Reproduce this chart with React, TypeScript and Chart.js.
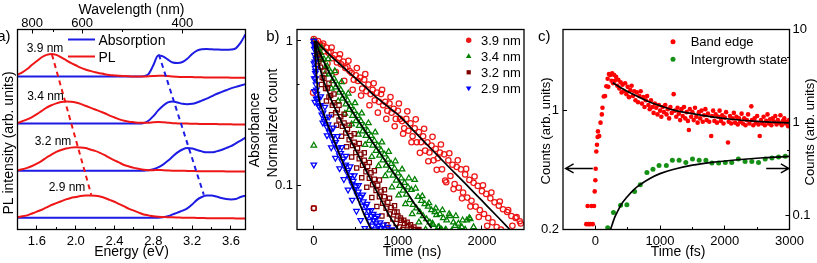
import { useEffect, useRef } from 'react';
import { Chart, registerables } from 'chart.js';

Chart.register(...registerables);

const FONT = "'Liberation Sans', Arial, Helvetica, sans-serif";
Chart.defaults.font.family = FONT;
Chart.defaults.color = '#000';

const RED = 'rgb(238,22,22)';
const BLUE = 'rgb(28,28,228)';
const GREEN_B = 'rgb(0,128,0)';
const MAROON = 'rgb(128,0,0)';
const BLUE_B = 'rgb(0,0,255)';
const GREEN_C = 'rgb(22,145,22)';

// ---------------- Panel a : PL / absorption spectra ----------------
const ENERGY_EV = [
  1.40, 1.45, 1.50, 1.55, 1.60, 1.65, 1.70, 1.75,
  1.80, 1.85, 1.90, 1.95, 2.00, 2.05, 2.10, 2.15,
  2.20, 2.25, 2.30, 2.35, 2.40, 2.45, 2.50, 2.55,
  2.60, 2.65, 2.70, 2.75, 2.80, 2.85, 2.90, 2.95,
  3.00, 3.05, 3.10, 3.15, 3.20, 3.25, 3.30, 3.35,
  3.40, 3.45, 3.50, 3.55, 3.60, 3.65, 3.70, 3.75,
];
const SAMPLE_SIZES = ['3.9 nm', '3.4 nm', '3.2 nm', '2.9 nm'];
const SAMPLE_OFFSETS = [3.25, 2.25, 1.25, 0.25];

const PL_39 = [
  0.04, 0.09, 0.16, 0.25, 0.33, 0.41, 0.46, 0.48,
  0.46, 0.41, 0.35, 0.29, 0.24, 0.19, 0.15, 0.12,
  0.09, 0.07, 0.05, 0.035, 0.025, 0.015, 0.01, 0.005,
  0, 0, 0, 0.005, 0.01, 0.015, 0.015, 0.01,
  0, -0.005, -0.01, -0.01, -0.01, -0.015, -0.015, -0.02,
  -0.02, -0.02, -0.02, -0.02, -0.025, -0.025, -0.025, -0.025,
];
const ABS_39 = [
  0, 0, 0, 0, 0, 0, 0, 0,
  0, 0, 0, 0, 0, 0, 0, 0,
  0, 0, 0, 0, 0, 0, 0, 0,
  0, 0, 0.005, 0.05, 0.24, 0.45, 0.43, 0.36,
  0.30, 0.29, 0.31, 0.38, 0.48, 0.55, 0.58, 0.585,
  0.58, 0.575, 0.57, 0.57, 0.575, 0.60, 0.72, 0.90,
];
const PL_34 = [
  0.01, 0.05, 0.09, 0.14, 0.20, 0.27, 0.34, 0.39,
  0.43, 0.46, 0.47, 0.465, 0.45, 0.42, 0.38, 0.34,
  0.30, 0.26, 0.22, 0.17, 0.13, 0.09, 0.06, 0.04,
  0.03, 0.02, 0.02, 0.02, 0.03, 0.035, 0.03, 0.02,
  0.01, 0.005, 0, 0, -0.005, -0.005, -0.01, -0.01,
  -0.01, -0.01, -0.015, -0.015, -0.015, -0.02, -0.02, -0.02,
];
const ABS_34 = [
  0, 0, 0, 0, 0, 0, 0, 0,
  0, 0, 0, 0, 0, 0, 0, 0,
  0, 0, 0, 0, 0, 0, 0, 0,
  0, 0, 0.01, 0.06, 0.16, 0.28, 0.38, 0.45,
  0.47, 0.45, 0.42, 0.41, 0.42, 0.45, 0.49, 0.53,
  0.58, 0.63, 0.67, 0.71, 0.75, 0.78, 0.81, 0.84,
];
const PL_32 = [
  0.01, 0.03, 0.06, 0.10, 0.15, 0.21, 0.28, 0.34,
  0.40, 0.44, 0.47, 0.49, 0.50, 0.495, 0.48, 0.45,
  0.42, 0.38, 0.33, 0.27, 0.22, 0.17, 0.12, 0.09,
  0.06, 0.04, 0.02, 0.01, 0.01, 0.015, 0.01, 0.005,
  0, 0, 0, -0.005, -0.005, -0.01, -0.01, -0.01,
  -0.01, -0.01, -0.01, -0.015, -0.015, -0.015, -0.015, -0.015,
];
const ABS_32 = [
  0, 0, 0, 0, 0, 0, 0, 0,
  0, 0, 0, 0, 0, 0, 0, 0,
  0, 0, 0, 0, 0, 0, 0, 0,
  0, 0, 0, 0.01, 0.03, 0.07, 0.13, 0.21,
  0.30, 0.39, 0.45, 0.48, 0.47, 0.44, 0.41, 0.39,
  0.39, 0.41, 0.44, 0.48, 0.52, 0.58, 0.64, 0.70,
];
const PL_29 = [
  0.01, 0.03, 0.05, 0.09, 0.13, 0.17, 0.22, 0.27,
  0.31, 0.35, 0.39, 0.42, 0.44, 0.46, 0.47, 0.47,
  0.465, 0.45, 0.42, 0.38, 0.34, 0.29, 0.24, 0.19,
  0.15, 0.11, 0.07, 0.05, 0.03, 0.02, 0.015, 0.01,
  0.01, 0.005, 0, 0, 0, -0.005, -0.005, -0.01,
  -0.01, -0.01, -0.01, -0.01, -0.01, -0.015, -0.015, -0.015,
];
const ABS_29 = [
  0, 0, 0, 0, 0, 0, 0, 0,
  0, 0, 0, 0, 0, 0, 0, 0,
  0, 0, 0, 0, 0, 0, 0, 0,
  0, 0, 0, 0, 0, 0, 0.01, 0.03,
  0.07, 0.11, 0.15, 0.20, 0.28, 0.38, 0.44, 0.47,
  0.47, 0.45, 0.42, 0.40, 0.39, 0.40, 0.44, 0.47,
];
const PL_SERIES = [PL_39, PL_34, PL_32, PL_29];
const ABS_SERIES = [ABS_39, ABS_34, ABS_32, ABS_29];
const PL_SHIFT_LINE = [[1.755, 3.72], [2.16, 0.74]];
const ABS_SHIFT_LINE = [[2.857, 3.72], [3.32, 0.74]];
const ENERGY_TICKS = [1.6, 1.8, 2.0, 2.2, 2.4, 2.6, 2.8, 3.0, 3.2, 3.4, 3.6];
const ENERGY_TICK_LABELS = ['1.6', '', '2.0', '', '2.4', '', '2.8', '', '3.2', '', '3.6'];
const WAVELENGTH_TICKS = [800, 700, 600, 500, 400];
const WAVELENGTH_TICK_LABELS = ['800', '', '600', '', '400'];

// ---------------- Panel b : PL decays ----------------
const DECAY_39 = [
  [-8, 0.44], [0, 0.07],
  [0, 1.03], [25, 0.98], [50, 1.0], [75, 0.94], [100, 0.93], [125, 0.85], [150, 0.9], [175, 0.83],
  [200, 0.84], [225, 0.76], [250, 0.8], [275, 0.71], [300, 0.76], [325, 0.69], [350, 0.72], [375, 0.65],
  [400, 0.66], [425, 0.62], [450, 0.6], [475, 0.54], [500, 0.58], [525, 0.53], [550, 0.56], [575, 0.47],
  [600, 0.54], [625, 0.45], [650, 0.5], [675, 0.43], [700, 0.46], [725, 0.39], [750, 0.44], [775, 0.38],
  [800, 0.43], [825, 0.36], [850, 0.38], [875, 0.33], [900, 0.37], [925, 0.32], [950, 0.34], [975, 0.29],
  [1000, 0.33], [1025, 0.29], [1050, 0.28], [1075, 0.25], [1100, 0.29], [1125, 0.24], [1150, 0.27], [1175, 0.22],
  [1200, 0.25], [1225, 0.2], [1250, 0.235], [1275, 0.2], [1300, 0.22], [1325, 0.175], [1350, 0.2], [1375, 0.17],
  [1400, 0.19], [1425, 0.15], [1450, 0.18], [1475, 0.155], [1500, 0.17], [1525, 0.13], [1550, 0.165], [1575, 0.106],
  [1600, 0.15], [1625, 0.117], [1650, 0.14], [1675, 0.103], [1700, 0.135], [1725, 0.097], [1750, 0.13], [1775, 0.09],
  [1800, 0.12], [1825, 0.083], [1850, 0.11], [1875, 0.079], [1900, 0.105], [1925, 0.072], [1950, 0.1], [1975, 0.068],
  [2000, 0.092], [2025, 0.064], [2050, 0.088], [2075, 0.06], [2100, 0.082], [2125, 0.056], [2150, 0.077], [2175, 0.052],
  [2200, 0.073], [2225, 0.05], [2250, 0.069], [2275, 0.048], [2300, 0.066], [2325, 0.045], [2350, 0.062], [2375, 0.043],
  [2400, 0.06], [2425, 0.041], [2450, 0.057], [2475, 0.04],
];
const DECAY_39_SPREAD = [
  [62, 0.81], [112, 0.96], [162, 0.7], [212, 0.9], [262, 0.61], [312, 0.81], [362, 0.53], [412, 0.73],
  [462, 0.46], [512, 0.65], [562, 0.42], [612, 0.59], [662, 0.36], [712, 0.51], [762, 0.32], [812, 0.46],
  [862, 0.29], [912, 0.41], [962, 0.258], [1012, 0.37], [1062, 0.229], [1112, 0.327], [1162, 0.2], [1212, 0.288],
  [1262, 0.169], [1312, 0.248], [1362, 0.148], [1412, 0.218], [1462, 0.129], [1512, 0.193], [1562, 0.109], [1612, 0.168],
  [1662, 0.095], [1712, 0.15], [1762, 0.082], [1812, 0.131], [1862, 0.072], [1912, 0.116], [1962, 0.061], [2012, 0.101],
  [2062, 0.053], [2112, 0.09], [2162, 0.045], [2212, 0.078], [2262, 0.041], [2312, 0.068], [2362, 0.053], [2412, 0.061],
  [2462, 0.055],
];
const DECAY_34 = [
  [0, 0.19],
  [0, 1.0], [20, 0.97], [40, 0.9], [60, 0.84], [80, 0.83], [100, 0.74], [120, 0.75], [140, 0.66],
  [160, 0.67], [180, 0.59], [200, 0.61], [220, 0.53], [240, 0.55], [260, 0.48], [280, 0.5], [300, 0.44],
  [320, 0.46], [340, 0.4], [360, 0.42], [380, 0.365], [400, 0.39], [420, 0.335], [440, 0.355], [460, 0.305],
  [480, 0.33], [500, 0.28], [520, 0.305], [540, 0.26], [560, 0.28], [580, 0.238], [600, 0.258], [620, 0.222],
  [640, 0.24], [660, 0.205], [680, 0.222], [700, 0.19], [720, 0.205], [740, 0.175], [760, 0.19], [780, 0.162],
  [800, 0.176], [820, 0.15], [840, 0.165], [860, 0.138], [880, 0.152], [900, 0.128], [920, 0.142], [940, 0.118],
  [960, 0.132], [980, 0.109], [1000, 0.122], [1020, 0.1], [1040, 0.113], [1060, 0.093], [1080, 0.105], [1100, 0.087],
  [1120, 0.098], [1140, 0.08], [1160, 0.094], [1180, 0.074], [1200, 0.11], [1220, 0.07], [1240, 0.084], [1260, 0.066],
  [1280, 0.079], [1300, 0.062], [1320, 0.075], [1340, 0.059], [1360, 0.072], [1380, 0.056], [1400, 0.068], [1420, 0.054],
  [1440, 0.066], [1460, 0.063], [1480, 0.052], [1500, 0.064], [1520, 0.05], [1540, 0.06], [1560, 0.049], [1580, 0.058],
  [1600, 0.047], [1620, 0.062], [1640, 0.049], [1660, 0.056], [1680, 0.053], [1700, 0.046], [1720, 0.055], [1740, 0.048],
  [1760, 0.052], [1780, 0.045], [1800, 0.05], [1820, 0.058], [1840, 0.047], [1860, 0.059], [1880, 0.046],
];
const DECAY_34_SPREAD = [
  [50, 0.76], [90, 0.9], [130, 0.59], [170, 0.75], [210, 0.47], [250, 0.62], [290, 0.385], [330, 0.52],
  [370, 0.316], [410, 0.434], [450, 0.266], [490, 0.373], [530, 0.226], [570, 0.317], [610, 0.192], [650, 0.271],
  [690, 0.159], [730, 0.234], [770, 0.137], [810, 0.2], [850, 0.117], [890, 0.172], [930, 0.098], [970, 0.148],
  [1010, 0.086], [1050, 0.13], [1090, 0.075], [1130, 0.113], [1170, 0.064], [1210, 0.096], [1250, 0.056], [1290, 0.085],
  [1330, 0.05], [1370, 0.076], [1410, 0.055], [1450, 0.07], [1490, 0.052], [1530, 0.068], [1570, 0.05], [1610, 0.064],
  [1650, 0.047], [1690, 0.062], [1730, 0.05], [1770, 0.058], [1850, 0.06], [1900, 0.052],
];
const DECAY_32 = [
  [0, 0.07],
  [0, 1.0], [20, 0.93], [40, 0.82], [60, 0.72], [80, 0.66], [100, 0.56], [120, 0.55], [140, 0.47],
  [160, 0.47], [180, 0.41], [200, 0.42], [220, 0.36], [240, 0.375], [260, 0.32], [280, 0.335], [300, 0.285],
  [320, 0.3], [340, 0.258], [360, 0.272], [380, 0.232], [400, 0.245], [420, 0.208], [440, 0.222], [460, 0.19],
  [480, 0.2], [500, 0.17], [520, 0.182], [540, 0.154], [560, 0.165], [580, 0.139], [600, 0.15], [620, 0.125],
  [640, 0.136], [660, 0.113], [680, 0.123], [700, 0.102], [720, 0.111], [740, 0.093], [760, 0.101], [780, 0.084],
  [800, 0.092], [820, 0.076], [840, 0.084], [860, 0.07], [880, 0.077], [900, 0.064], [920, 0.071], [940, 0.059],
  [960, 0.066], [980, 0.055], [1000, 0.062], [1020, 0.052], [1040, 0.058], [1060, 0.05], [1080, 0.055], [1100, 0.048],
  [1120, 0.053], [1140, 0.047], [1160, 0.051], [1180, 0.046], [1200, 0.05], [1220, 0.045], [1240, 0.049], [1260, 0.044],
];
const DECAY_32_SPREAD = [
  [30, 0.76], [60, 0.8], [90, 0.5], [120, 0.62], [150, 0.385], [180, 0.51], [210, 0.31], [240, 0.43],
  [270, 0.262], [300, 0.36], [330, 0.22], [360, 0.312], [390, 0.186], [420, 0.262], [450, 0.158], [480, 0.229],
  [510, 0.133], [540, 0.196], [570, 0.114], [600, 0.169], [630, 0.098], [660, 0.145], [690, 0.083], [720, 0.127],
  [750, 0.072], [780, 0.11], [810, 0.062], [840, 0.094], [870, 0.054], [900, 0.082], [930, 0.049], [960, 0.073],
  [990, 0.066], [1030, 0.06], [1070, 0.058], [1110, 0.056], [1150, 0.054], [1190, 0.052], [1250, 0.05],
];
const DECAY_29 = [
  [0, 0.14],
  [0, 1.0], [3, 0.95], [6, 0.88], [9, 0.8], [12, 0.72], [15, 0.65], [18, 0.6], [22, 0.55], [26, 0.5], [30, 0.46],
  [35, 0.43], [40, 0.4], [50, 0.4], [65, 0.35], [80, 0.36], [95, 0.31], [110, 0.32], [125, 0.28], [140, 0.29],
  [155, 0.255], [170, 0.265], [185, 0.235], [200, 0.24], [215, 0.212], [230, 0.22], [245, 0.195], [260, 0.2],
  [275, 0.178], [290, 0.183], [305, 0.162], [320, 0.168], [335, 0.148], [350, 0.154], [365, 0.136], [380, 0.14],
  [395, 0.124], [410, 0.128], [425, 0.113], [440, 0.118], [455, 0.103], [470, 0.108], [485, 0.095], [500, 0.099],
  [515, 0.087], [530, 0.091], [545, 0.08], [560, 0.084], [575, 0.073], [590, 0.078], [605, 0.067], [620, 0.072],
  [635, 0.062], [650, 0.067], [665, 0.057], [680, 0.062], [695, 0.053], [710, 0.058], [725, 0.05], [740, 0.055],
  [755, 0.048], [770, 0.053], [785, 0.046], [800, 0.051], [820, 0.045], [840, 0.05], [860, 0.044],
];
const DECAY_29_SPREAD = [
  [2, 0.7], [5, 0.55], [8, 0.45], [12, 0.38], [16, 0.9], [20, 0.62], [25, 0.75], [28, 0.4],
  [57, 0.357], [82, 0.414], [107, 0.273], [132, 0.351], [157, 0.223], [182, 0.3], [207, 0.184], [232, 0.252],
  [257, 0.156], [282, 0.22], [307, 0.132], [332, 0.185], [357, 0.111], [382, 0.161], [407, 0.094], [432, 0.136],
  [457, 0.08], [482, 0.118], [507, 0.067], [532, 0.101], [557, 0.058], [582, 0.087], [607, 0.051], [632, 0.075],
  [657, 0.049], [682, 0.068], [707, 0.064], [732, 0.06], [760, 0.062], [790, 0.056], [830, 0.054], [880, 0.052],
  [930, 0.05],
];
const FIT_39 = [[30, 1.0], [100, 0.9], [200, 0.79], [300, 0.7], [400, 0.62], [500, 0.55], [600, 0.49], [700, 0.43], [800, 0.385], [900, 0.345], [1000, 0.31], [1200, 0.236], [1400, 0.179], [1600, 0.136], [1800, 0.104], [2000, 0.079], [2200, 0.06], [2330, 0.05]];
const FIT_34 = [[20, 1.0], [60, 0.86], [100, 0.76], [150, 0.66], [200, 0.58], [300, 0.46], [400, 0.37], [500, 0.3], [600, 0.245], [700, 0.2], [800, 0.165], [900, 0.135], [1000, 0.112], [1100, 0.092], [1200, 0.075], [1300, 0.062], [1400, 0.051]];
const FIT_32 = [[15, 1.0], [40, 0.8], [70, 0.66], [100, 0.57], [150, 0.47], [200, 0.4], [300, 0.3], [400, 0.228], [500, 0.175], [600, 0.135], [700, 0.104], [800, 0.08], [900, 0.062], [1000, 0.05]];
const FIT_29 = [[8, 1.0], [20, 0.74], [35, 0.55], [50, 0.44], [70, 0.38], [100, 0.335], [150, 0.28], [200, 0.235], [300, 0.168], [400, 0.122], [500, 0.088], [600, 0.063], [680, 0.05]];
const TIME_NS_TICKS = [0, 500, 1000, 1500, 2000];
const TIME_NS_LABELS = ['0', '', '1000', '', '2000'];
const COUNT_TICKS = [0.1, 0.5, 1];
const COUNT_LABELS = ['0.1', '', '1'];

// ---------------- Panel c : transient dynamics ----------------
const BAND_EDGE = [
  [-140, 0.215], [-120, 0.275], [-105, 0.215], [-80, 0.215], [-60, 0.275], [-40, 0.215], [-20, 0.275], [-10, 0.335],
  [0, 0.39], [5, 0.455], [15, 0.575], [25, 0.63], [35, 0.7], [40, 0.755], [60, 0.71], [80, 0.85], [100, 0.95],
  [110, 1.04], [130, 1.21], [150, 1.22], [170, 1.39], [190, 1.54], [200, 1.38], [210, 1.64], [230, 1.62], [250, 1.5],
  [260, 1.66], [275, 1.45], [290, 1.62], [300, 1.5], [320, 1.58], [340, 1.4], [355, 1.52], [370, 1.35], [390, 1.47],
  [405, 1.28], [420, 1.42], [440, 1.3], [460, 1.45], [480, 1.25], [500, 1.38], [520, 1.2], [540, 1.32], [560, 1.4],
  [580, 1.22], [600, 1.3], [620, 1.15], [640, 1.28], [660, 1.12], [680, 1.22], [700, 1.3], [720, 1.1], [740, 1.2],
  [760, 1.05], [780, 1.15], [800, 1.22], [820, 1.08], [840, 1.02], [860, 1.15], [880, 1.05], [900, 0.97], [920, 1.1],
  [940, 1.04], [960, 0.95], [980, 1.08], [1000, 1.0], [1020, 0.92], [1040, 1.05], [1060, 0.98], [1080, 1.08],
  [1100, 0.95], [1120, 1.02], [1140, 0.9], [1160, 1.05], [1180, 0.97], [1210, 1.25], [1230, 1.0], [1250, 0.92],
  [1270, 1.04], [1290, 0.96], [1310, 0.88], [1330, 1.02], [1350, 0.93], [1370, 1.05], [1390, 0.9], [1410, 0.98],
  [1430, 0.87], [1445, 0.77], [1460, 1.02], [1480, 0.92], [1500, 0.98], [1520, 0.88], [1540, 1.04], [1560, 0.92],
  [1580, 0.85], [1600, 0.98], [1620, 0.9], [1640, 1.0], [1660, 0.86], [1680, 0.94], [1700, 1.02], [1720, 0.88],
  [1740, 0.96], [1760, 0.86], [1790, 0.71], [1800, 0.93], [1820, 1.0], [1840, 0.87], [1860, 0.95], [1880, 0.85],
  [1900, 0.92], [1920, 1.0], [1940, 0.87], [1960, 0.94], [1980, 0.84], [2000, 0.91], [2020, 0.98], [2050, 0.65],
  [2060, 0.86], [2080, 0.93], [2100, 0.84], [2120, 0.9], [2140, 0.97], [2160, 0.85], [2180, 0.92], [2200, 0.83],
  [2220, 0.9], [2240, 0.86], [2260, 0.96], [2280, 0.84], [2300, 0.9], [2320, 0.82], [2340, 0.88], [2360, 0.95],
  [2380, 0.84], [2410, 1.06], [2420, 0.88], [2440, 0.82], [2460, 0.9], [2480, 0.85], [2500, 0.93], [2520, 0.83],
  [2540, 0.71], [2560, 0.88], [2580, 0.84], [2600, 0.92], [2620, 0.82], [2640, 0.87], [2660, 0.95], [2680, 0.84],
  [2700, 0.89], [2720, 0.82], [2740, 0.9], [2760, 0.86], [2780, 0.93], [2800, 0.83], [2820, 0.88], [2840, 0.85],
  [2860, 0.94], [2880, 0.82], [2900, 0.87], [2920, 0.9], [2940, 0.84], [2960, 0.86], [2980, 0.81], [2995, 0.88],
];
const BAND_EDGE_FIT = [[270, 1.46], [400, 1.36], [600, 1.24], [800, 1.14], [1000, 1.07], [1200, 1.01], [1500, 0.96], [1800, 0.92], [2100, 0.89], [2400, 0.87], [2700, 0.855], [3000, 0.847]];
const INTERGROWTH = [
  [191, 0.073], [280, 0.107], [390, 0.128], [487, 0.129], [606, 0.18], [694, 0.213], [797, 0.288], [890, 0.313],
  [984, 0.343], [1097, 0.343], [1190, 0.389], [1294, 0.389], [1398, 0.37], [1501, 0.402], [1604, 0.389],
  [1708, 0.389], [1801, 0.364], [1905, 0.364], [2008, 0.37], [2107, 0.37], [2210, 0.402], [2314, 0.379],
  [2418, 0.379], [2521, 0.37], [2624, 0.402], [2728, 0.412], [2831, 0.423], [2935, 0.43],
];
const INTERGROWTH_FIT = [[235, 0.07], [300, 0.095], [350, 0.112], [400, 0.13], [500, 0.16], [600, 0.19], [700, 0.215], [850, 0.25], [1000, 0.28], [1200, 0.31], [1500, 0.345], [1800, 0.37], [2200, 0.395], [2600, 0.415], [3000, 0.43]];
const TIME_FS_TICKS = [0, 500, 1000, 1500, 2000, 2500, 3000];
const TIME_FS_LABELS = ['0', '', '1000', '', '2000', '', '3000'];
const LEFT_COUNT_TICKS = [0.2, 1];
const LEFT_COUNT_LABELS = ['0.2', '1'];
const RIGHT_COUNT_TICKS = [0.1, 0.5, 1, 5, 10];
const RIGHT_COUNT_LABELS = ['0.1', '', '1', '', '10'];
const AXIS_ARROWS = [
  { from: -40, to: -460, v: 0.457 },
  { from: 2640, to: 2990, v: 0.457 },
];

// ---------------- helpers ----------------
const pts = (arr: number[][]) => arr.map((p) => ({ x: p[0], y: p[1] }));

function fixedTicks(values: number[], labels: string[], size: number, padding: number) {
  return {
    afterBuildTicks: (s: any) => {
      s.ticks = values.map((v) => ({ value: v }));
    },
    ticks: {
      autoSkip: false,
      maxRotation: 0,
      minRotation: 0,
      padding,
      color: '#000',
      font: { size, family: FONT },
      callback: (_v: any, i: number) => labels[i],
    },
    grid: { display: false, drawTicks: false },
    border: { display: false },
  };
}

const decorPlugin = {
  id: 'decor',
  afterDraw(chart: any, _args: any, o: any) {
    const ctx = chart.ctx as CanvasRenderingContext2D;
    const ca = chart.chartArea;
    ctx.save();
    ctx.strokeStyle = '#000';
    ctx.fillStyle = '#000';
    (o.arrows || []).forEach((ar: any) => {
      const xs = chart.scales.x;
      const ys = chart.scales.y;
      const x1 = xs.getPixelForValue(ar.from);
      const x2 = xs.getPixelForValue(ar.to);
      const y = ys.getPixelForValue(ar.v);
      const dir = Math.sign(x2 - x1);
      ctx.lineWidth = 1.4;
      ctx.beginPath();
      ctx.moveTo(x1, y);
      ctx.lineTo(x2, y);
      ctx.moveTo(x2 - dir * 8, y - 4.5);
      ctx.lineTo(x2, y);
      ctx.lineTo(x2 - dir * 8, y + 4.5);
      ctx.stroke();
    });
    ctx.lineWidth = 1;
    (o.ticks || []).forEach((spec: any) => {
      const sc = chart.scales[spec.axis];
      sc.ticks.forEach((tk: any) => {
        const len = tk.label ? 4 : 2.5;
        const p = Math.round(sc.getPixelForValue(tk.value) - 0.5) + 0.5;
        ctx.beginPath();
        if (spec.side === 'bottom') { ctx.moveTo(p, ca.bottom); ctx.lineTo(p, ca.bottom - len); }
        if (spec.side === 'top') { ctx.moveTo(p, ca.top); ctx.lineTo(p, ca.top + len); }
        if (spec.side === 'left') { ctx.moveTo(ca.left, p); ctx.lineTo(ca.left + len, p); }
        if (spec.side === 'right') { ctx.moveTo(ca.right, p); ctx.lineTo(ca.right - len, p); }
        ctx.stroke();
      });
    });
    ctx.lineWidth = 1.3;
    ctx.strokeRect(ca.left, ca.top, ca.right - ca.left, ca.bottom - ca.top);
    (o.lines || []).forEach((l: any) => {
      ctx.strokeStyle = l.color;
      ctx.lineWidth = 2;
      ctx.beginPath();
      ctx.moveTo(l.x1, l.y);
      ctx.lineTo(l.x2, l.y);
      ctx.stroke();
    });
    (o.markers || []).forEach((m: any) => {
      const { x, y, r } = m;
      ctx.strokeStyle = m.color;
      ctx.fillStyle = m.color;
      ctx.lineWidth = 1.25;
      ctx.beginPath();
      if (m.shape === 'circle') ctx.arc(x, y, r, 0, Math.PI * 2);
      if (m.shape === 'square') ctx.rect(x - r * 0.707, y - r * 0.707, r * 1.414, r * 1.414);
      if (m.shape === 'up') {
        ctx.moveTo(x, y - r); ctx.lineTo(x + r * 0.866, y + r / 2); ctx.lineTo(x - r * 0.866, y + r / 2); ctx.closePath();
      }
      if (m.shape === 'down') {
        ctx.moveTo(x, y + r); ctx.lineTo(x + r * 0.866, y - r / 2); ctx.lineTo(x - r * 0.866, y - r / 2); ctx.closePath();
      }
      if (m.fill) ctx.fill(); else ctx.stroke();
    });
    ctx.fillStyle = '#000';
    ctx.textBaseline = 'alphabetic';
    (o.texts || []).forEach((t: any) => {
      ctx.font = `${t.size}px ${FONT}`;
      ctx.textAlign = t.align || 'left';
      if (t.rot) {
        ctx.save();
        ctx.translate(t.x, t.y);
        ctx.rotate(t.rot);
        ctx.fillText(t.text, 0, 0);
        ctx.restore();
      } else {
        ctx.fillText(t.text, t.x, t.y);
      }
    });
    ctx.restore();
  },
};

const baseOptions = {
  responsive: false,
  animation: false as const,
  devicePixelRatio: 1,
  events: [] as any[],
};

function configA(): any {
  const datasets: any[] = [];
  SAMPLE_SIZES.forEach((_s, k) => {
    datasets.push({
      data: ENERGY_EV.map((e, i) => ({ x: e, y: SAMPLE_OFFSETS[k] + ABS_SERIES[k][i] })),
      borderColor: BLUE, borderWidth: 2, pointRadius: 0, cubicInterpolationMode: 'monotone', order: 5,
    });
    datasets.push({
      data: ENERGY_EV.map((e, i) => ({ x: e, y: SAMPLE_OFFSETS[k] + PL_SERIES[k][i] })),
      borderColor: RED, borderWidth: 2, pointRadius: 0, cubicInterpolationMode: 'monotone', order: 4,
    });
  });
  datasets.push({ data: pts(PL_SHIFT_LINE), borderColor: RED, borderWidth: 2, borderDash: [5, 4], pointRadius: 0, order: 1 });
  datasets.push({ data: pts(ABS_SHIFT_LINE), borderColor: BLUE, borderWidth: 2, borderDash: [5, 4], pointRadius: 0, order: 1 });
  return {
    type: 'line',
    data: { datasets },
    plugins: [decorPlugin],
    options: {
      ...baseOptions,
      layout: { padding: { left: 17.5, right: 571.5, top: 0, bottom: 0 } },
      scales: {
        x: {
          type: 'linear', position: 'bottom', min: 1.4, max: 3.75,
          ...fixedTicks(ENERGY_TICKS, ENERGY_TICK_LABELS, 13, 4),
          afterFit: (s: any) => { s.height = 33.5; },
        },
        xTop: {
          type: 'linear', position: 'top', min: 1.4, max: 3.75,
          ...fixedTicks(WAVELENGTH_TICKS.map((w) => 1239.84 / w), WAVELENGTH_TICK_LABELS, 13, -2),
          afterFit: (s: any) => { s.height = 29.5; },
        },
        y: { type: 'linear', min: 0, max: 4.25, display: false },
      },
      plugins: {
        legend: { display: false },
        tooltip: { enabled: false },
        decor: {
          ticks: [{ axis: 'x', side: 'bottom' }, { axis: 'xTop', side: 'top' }],
          lines: [
            { x1: 68, x2: 95, y: 39.5, color: BLUE },
            { x1: 68, x2: 95, y: 56.5, color: RED },
          ],
          texts: [
            { text: 'a)', x: 10.5, y: 41, size: 15, align: 'right' },
            { text: 'Wavelength (nm)', x: 131.5, y: 14, size: 14, align: 'center' },
            { text: 'Energy (eV)', x: 131.5, y: 256, size: 14, align: 'center' },
            { text: 'PL intensity (arb. units)', x: 13, y: 143, size: 14, align: 'center', rot: -Math.PI / 2 },
            { text: 'Absorbance', x: 259, y: 130, size: 14, align: 'center', rot: -Math.PI / 2 },
            { text: 'Absorption', x: 98.5, y: 44.5, size: 14 },
            { text: 'PL', x: 98.5, y: 61.5, size: 14 },
            { text: SAMPLE_SIZES[0], x: 45, y: 52, size: 12, align: 'center' },
            { text: SAMPLE_SIZES[1], x: 45.5, y: 99.5, size: 12, align: 'center' },
            { text: SAMPLE_SIZES[2], x: 53, y: 145, size: 12, align: 'center' },
            { text: SAMPLE_SIZES[3], x: 67, y: 191, size: 12, align: 'center' },
          ],
        },
      },
    },
  };
}

function scatterSet(data: number[][], color: string, style: string, radius: number, rotation: number, order: number) {
  return {
    data: pts(data), showLine: false, pointStyle: style, pointRadius: radius, pointRotation: rotation,
    pointBorderColor: color, pointBackgroundColor: 'rgba(0,0,0,0)', pointBorderWidth: 1.25, order,
  };
}
function fitSet(data: number[][], order: number, yAxisID = 'y') {
  return {
    data: pts(data), borderColor: '#000', borderWidth: 1.7, pointRadius: 0,
    cubicInterpolationMode: 'monotone', order, yAxisID,
  };
}

function configB(): any {
  const datasets = [
    scatterSet(DECAY_39.concat(DECAY_39_SPREAD), RED, 'circle', 2.7, 0, 9),
    scatterSet(DECAY_34.concat(DECAY_34_SPREAD), GREEN_B, 'triangle', 3.2, 0, 8),
    scatterSet(DECAY_32.concat(DECAY_32_SPREAD), MAROON, 'rect', 3.0, 0, 7),
    scatterSet(DECAY_29.concat(DECAY_29_SPREAD), BLUE_B, 'triangle', 3.2, 180, 6),
    fitSet(FIT_39, 1), fitSet(FIT_34, 1), fitSet(FIT_32, 1), fitSet(FIT_29, 1),
  ];
  return {
    type: 'line',
    data: { datasets },
    plugins: [decorPlugin],
    options: {
      ...baseOptions,
      layout: { padding: { left: 270, right: 293, top: 29.5, bottom: 0 } },
      scales: {
        x: {
          type: 'linear', position: 'bottom', min: -200, max: 2500,
          ...fixedTicks(TIME_NS_TICKS, TIME_NS_LABELS, 13, 4),
          afterFit: (s: any) => { s.height = 33.5; },
        },
        y: {
          type: 'logarithmic', position: 'left', min: 0.05, max: 1.2,
          ...fixedTicks(COUNT_TICKS, COUNT_LABELS, 13, 4),
          afterFit: (s: any) => { s.width = 27; },
        },
      },
      plugins: {
        legend: { display: false },
        tooltip: { enabled: false },
        decor: {
          ticks: [{ axis: 'x', side: 'bottom' }, { axis: 'y', side: 'left' }],
          markers: [
            { shape: 'circle', x: 468.7, y: 40.3, r: 2.7, color: RED },
            { shape: 'up', x: 468.7, y: 56.5, r: 3.2, color: GREEN_B },
            { shape: 'square', x: 468.7, y: 72.3, r: 3.0, color: MAROON },
            { shape: 'down', x: 468.7, y: 88, r: 3.2, color: BLUE_B },
          ],
          texts: [
            { text: 'b)', x: 279.5, y: 41, size: 15, align: 'right' },
            { text: 'Normalized count', x: 277, y: 123, size: 14, align: 'center', rot: -Math.PI / 2 },
            { text: 'Time (ns)', x: 412, y: 256, size: 14, align: 'center' },
            { text: SAMPLE_SIZES[0], x: 481, y: 45, size: 13 },
            { text: SAMPLE_SIZES[1], x: 481, y: 61, size: 13 },
            { text: SAMPLE_SIZES[2], x: 481, y: 77, size: 13 },
            { text: SAMPLE_SIZES[3], x: 481, y: 92.7, size: 13 },
          ],
        },
      },
    },
  };
}

function configC(): any {
  const datasets = [
    {
      data: pts(BAND_EDGE), showLine: false, pointRadius: 2.3, pointBorderWidth: 0,
      pointBackgroundColor: 'rgb(255,0,0)', pointBorderColor: 'rgb(255,0,0)', order: 5, yAxisID: 'y',
    },
    {
      data: pts(INTERGROWTH), showLine: false, pointRadius: 2.5, pointBorderWidth: 0,
      pointBackgroundColor: GREEN_C, pointBorderColor: GREEN_C, order: 4, yAxisID: 'y2',
    },
    fitSet(BAND_EDGE_FIT, 1, 'y'),
    fitSet(INTERGROWTH_FIT, 1, 'y2'),
  ];
  return {
    type: 'line',
    data: { datasets },
    plugins: [decorPlugin],
    options: {
      ...baseOptions,
      layout: { padding: { left: 540, right: 0, top: 29.5, bottom: 0 } },
      scales: {
        x: {
          type: 'linear', position: 'bottom', min: -500, max: 3000,
          ...fixedTicks(TIME_FS_TICKS, TIME_FS_LABELS, 13, 4),
          afterFit: (s: any) => { s.height = 33.5; },
        },
        y: {
          type: 'logarithmic', position: 'left', min: 0.2, max: 3,
          ...fixedTicks(LEFT_COUNT_TICKS, LEFT_COUNT_LABELS, 13, 4),
          afterFit: (s: any) => { s.width = 23; },
        },
        y2: {
          type: 'logarithmic', position: 'right', min: 0.07, max: 10,
          ...fixedTicks(RIGHT_COUNT_TICKS, RIGHT_COUNT_LABELS, 13, 3),
          afterFit: (s: any) => { s.width = 27.5; },
        },
      },
      plugins: {
        legend: { display: false },
        tooltip: { enabled: false },
        decor: {
          ticks: [{ axis: 'x', side: 'bottom' }, { axis: 'y', side: 'left' }, { axis: 'y2', side: 'right' }],
          arrows: AXIS_ARROWS,
          markers: [
            { shape: 'circle', x: 673, y: 41.7, r: 2.5, color: 'rgb(255,0,0)', fill: true },
            { shape: 'circle', x: 673, y: 59.3, r: 2.5, color: GREEN_C, fill: true },
          ],
          texts: [
            { text: 'c)', x: 550.5, y: 41, size: 15, align: 'right' },
            { text: 'Time (fs)', x: 678, y: 256, size: 14, align: 'center' },
            { text: 'Counts (arb. units)', x: 549.5, y: 131, size: 13, align: 'center', rot: -Math.PI / 2 },
            { text: 'Counts (arb. units)', x: 813.5, y: 132, size: 13, align: 'center', rot: -Math.PI / 2 },
            { text: 'Band edge', x: 690.7, y: 46.3, size: 13 },
            { text: 'Intergrowth state', x: 690.7, y: 64, size: 13 },
          ],
        },
      },
    },
  };
}

export default function App() {
  const ra = useRef<HTMLCanvasElement>(null);
  const rb = useRef<HTMLCanvasElement>(null);
  const rc = useRef<HTMLCanvasElement>(null);
  useEffect(() => {
    const charts = [
      new Chart(ra.current as HTMLCanvasElement, configA()),
      new Chart(rb.current as HTMLCanvasElement, configB()),
      new Chart(rc.current as HTMLCanvasElement, configC()),
    ];
    return () => charts.forEach((c) => c.destroy());
  }, []);
  const cs: any = { position: 'absolute', left: 0, top: 0, width: 817, height: 263 };
  return (
    <div style={{ position: 'absolute', left: 0, top: 0, width: 817, height: 263, background: '#fff', overflow: 'hidden' }}>
      <canvas ref={ra} width={817} height={263} style={cs} />
      <canvas ref={rb} width={817} height={263} style={cs} />
      <canvas ref={rc} width={817} height={263} style={cs} />
    </div>
  );
}
